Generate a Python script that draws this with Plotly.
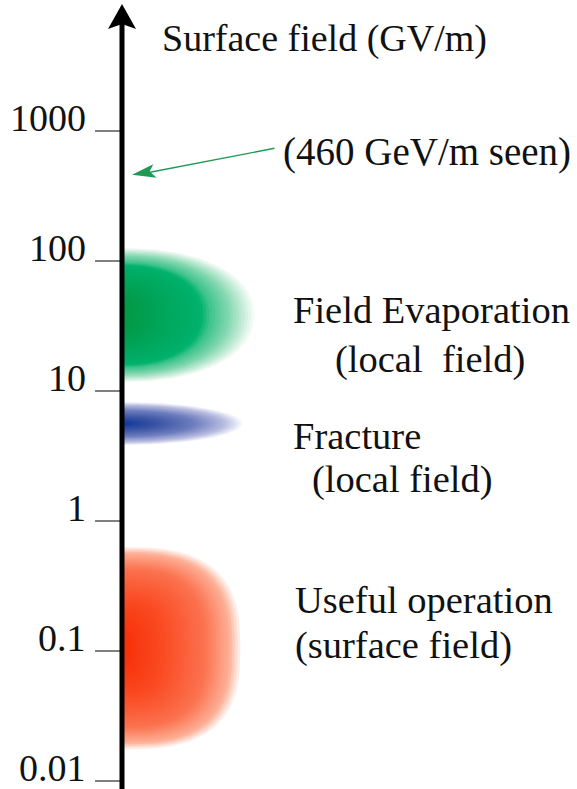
import numpy as np
import plotly.graph_objects as go

# ---------------- data ----------------
tick_values = [0.01, 0.1, 1, 10, 100, 1000]
tick_labels = ["0.01", "0.1", "1", "10", "100", "1000"]
axis_title = "Surface field (GV/m)"
observed_value = 460            # GV/m, marked by the green arrow
observed_label = "(460 GeV/m seen)"

region_names = ["Field Evaporation", "Fracture", "Useful operation"]
region_subtitles = ["(local\u00a0\u00a0field)", "(local field)", "(surface field)"]
region_low = [11.5, 3.8, 0.017]    # GV/m, lower edge of each band
region_high = [128, 8.3, 0.65]     # GV/m, upper edge of each band

# ---------------- styling ----------------
W, H = 577, 789
PX_PER_DEC = 130.0
PY_1000 = 131.0
log_top = 3 + PY_1000 / PX_PER_DEC
log_bot = 3 - (H - PY_1000) / PX_PER_DEC
AX_X = 122.0
SERIF = "Liberation Serif"
TICK_FS = 38
LABEL_FS = 38.5


def paper_y(py):
    return 1 - py / H


blob_style = [
    dict(width=135, n=2.2, q=0.6,
         stops=[0, 0.3, 0.6, 0.66, 0.8, 0.92, 1.0],
         colors=[(5, 150, 65), (0, 165, 90), (0, 178, 108), (60, 195, 140),
                 (130, 215, 175), (205, 238, 220), (255, 255, 255)]),
    dict(width=123, n=2.0, q=1.0,
         stops=[0, 0.3, 0.6, 0.85, 1.0],
         colors=[(15, 55, 155), (60, 85, 165), (110, 125, 190), (185, 190, 225), (255, 255, 255)]),
    dict(width=121, n=2.8, q=0.7,
         stops=[0, 0.35, 0.7, 0.9, 1.0],
         colors=[(248, 45, 5), (250, 75, 35), (251, 115, 80), (253, 175, 150), (255, 255, 255)]),
]

label_style = [
    dict(name_xy=(291, 310), sub_xy=(333, 359)),
    dict(name_xy=(291, 436), sub_xy=(310, 479)),
    dict(name_xy=(293, 600), sub_xy=(293, 645)),
]

fig = go.Figure()

# gradient blobs built from nested layers
N_LAYERS = 45
t = np.linspace(-np.pi / 2, np.pi / 2, 80)
for lo, hi, st in zip(region_low, region_high, blob_style):
    c = (np.log10(lo) + np.log10(hi)) / 2
    h = (np.log10(hi) - np.log10(lo)) / 2
    e = 2.0 / st["n"]
    cx = np.abs(np.cos(t)) ** e
    sy = np.sign(np.sin(t)) * np.abs(np.sin(t)) ** e
    for s in np.linspace(1.0, 0.03, N_LAYERS):
        rgb = [int(round(np.interp(s, st["stops"], [col[k] for col in st["colors"]]))) for k in range(3)]
        xs = AX_X + s * st["width"] * cx
        ys = 10 ** (c + h * (s ** st["q"]) * sy)
        fig.add_trace(go.Scatter(
            x=np.concatenate([[AX_X], xs, [AX_X]]),
            y=np.concatenate([[ys[0]], ys, [ys[-1]]]),
            mode="lines", fill="toself", line=dict(width=0),
            fillcolor="rgb(%d,%d,%d)" % tuple(rgb),
            hoverinfo="skip", showlegend=False))

# tick marks
tx, ty = [], []
for v in tick_values:
    tx += [95, AX_X, None]
    ty += [v, v, None]
fig.add_trace(go.Scatter(x=tx, y=ty, mode="lines", line=dict(color="#555555", width=1.5),
                         hoverinfo="skip", showlegend=False))

annotations = []
for v, lab in zip(tick_values, tick_labels):
    annotations.append(dict(x=88, y=np.log10(v), xref="x", yref="y", text=lab,
                            showarrow=False, xanchor="right", yanchor="middle",
                            yshift=0.33 * TICK_FS, font=dict(family=SERIF, size=TICK_FS, color="#111")))

annotations.append(dict(x=160, y=paper_y(39), xref="x", yref="paper", text=axis_title,
                        showarrow=False, xanchor="left", yanchor="middle",
                        font=dict(family=SERIF, size=38, color="#111")))
annotations.append(dict(x=281, y=paper_y(152), xref="x", yref="paper", text=observed_label,
                        showarrow=False, xanchor="left", yanchor="middle",
                        font=dict(family=SERIF, size=39, color="#111")))

for name, sub, ls in zip(region_names, region_subtitles, label_style):
    annotations.append(dict(x=ls["name_xy"][0], y=paper_y(ls["name_xy"][1]), xref="x", yref="paper",
                            text=name, showarrow=False, xanchor="left", yanchor="middle",
                            font=dict(family=SERIF, size=LABEL_FS, color="#111")))
    annotations.append(dict(x=ls["sub_xy"][0], y=paper_y(ls["sub_xy"][1]), xref="x", yref="paper",
                            text=sub, showarrow=False, xanchor="left", yanchor="middle",
                            font=dict(family=SERIF, size=LABEL_FS, color="#111")))

# green arrow line pointing at the observed value
ARROW_GREEN = "#1f9a55"
tail_log = 3 - (148 - PY_1000) / PX_PER_DEC
annotations.append(dict(x=150, y=np.log10(observed_value) + 0.02, xref="x", yref="y",
                        ax=276, ay=tail_log, axref="x", ayref="y", text="",
                        showarrow=True, arrowhead=0, arrowwidth=1.4, arrowcolor=ARROW_GREEN))

shapes = []
# arrowhead (pixel-sized, anchored at the observed value on the axis)
shapes.append(dict(type="path", xref="x", yref="y", xsizemode="pixel", ysizemode="pixel",
                   xanchor=AX_X + 10, yanchor=observed_value,
                   path="M 0,0 L 21.3,10.5 L 17.7,3.3 L 24.6,-3.0 Z",
                   fillcolor=ARROW_GREEN, line=dict(width=0), layer="above"))
# vertical axis line and top arrowhead
shapes.append(dict(type="line", xref="x", yref="paper", x0=AX_X, x1=AX_X,
                   y0=0, y1=paper_y(24), line=dict(color="black", width=5), layer="above"))
shapes.append(dict(type="path", xref="x", yref="paper",
                   path="M %.2f,%.5f L %.2f,%.5f L %.2f,%.5f L %.2f,%.5f Z" % (
                       AX_X - 14, paper_y(29), AX_X, paper_y(4), AX_X + 14, paper_y(29), AX_X, paper_y(24)),
                   fillcolor="black", line=dict(width=0), layer="above"))

fig.update_layout(
    width=W, height=H, margin=dict(l=0, r=0, t=0, b=0),
    paper_bgcolor="white", plot_bgcolor="white",
    font=dict(family=SERIF),
    xaxis=dict(range=[0, W], visible=False, fixedrange=True),
    yaxis=dict(type="log", range=[log_bot, log_top], visible=False, fixedrange=True),
    annotations=annotations, shapes=shapes, showlegend=False,
)

fig.write_html("out.html")
